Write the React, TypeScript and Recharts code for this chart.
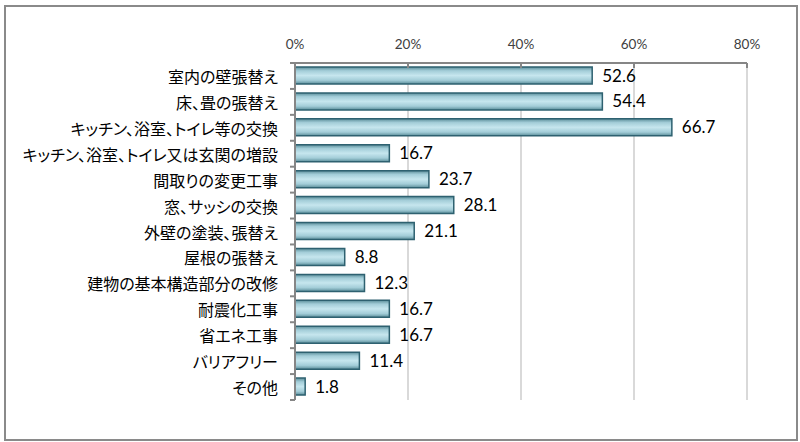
import React from "react";
import { BarChart, Bar, XAxis, YAxis, CartesianGrid, LabelList } from "recharts";

const categories = [
  "室内の壁張替え",
  "床、畳の張替え",
  "キッチン、浴室、トイレ等の交換",
  "キッチン、浴室、トイレ又は玄関の増設",
  "間取りの変更工事",
  "窓、サッシの交換",
  "外壁の塗装、張替え",
  "屋根の張替え",
  "建物の基本構造部分の改修",
  "耐震化工事",
  "省エネ工事",
  "バリアフリー",
  "その他",
];
const values = [52.6, 54.4, 66.7, 16.7, 23.7, 28.1, 21.1, 8.8, 12.3, 16.7, 16.7, 11.4, 1.8];
const xTicks = [0, 20, 40, 60, 80];

const data = categories.map((name, i) => ({ name, value: values[i] }));

const AXIS = "#868686";
const NUM_FONT = "Lato, 'Open Sans', sans-serif";
const JP_FONT = "'Noto Sans CJK JP', sans-serif";

const TopTick = (props: any) => {
  const { x, y, payload } = props;
  return (
    <g>
      <line x1={x} x2={x} y1={y} y2={y + 5} stroke={AXIS} strokeWidth={2} />
      <text x={x} y={y - 14} textAnchor="middle" fontFamily={NUM_FONT} fontSize={13.5} fill="#404040">
        {`${payload.value}%`}
      </text>
    </g>
  );
};

const LeftTick = (props: any) => {
  const { x, y, payload, index, visibleTicksCount } = props;
  const off = payload && typeof payload.offset === "number" && payload.offset > 0 ? payload.offset : 12.96;
  const last = index === (visibleTicksCount ?? categories.length) - 1;
  return (
    <g>
      <line x1={x - 5} x2={x} y1={y - off} y2={y - off} stroke={AXIS} strokeWidth={2} />
      {last && <line x1={x - 5} x2={x} y1={y + off} y2={y + off} stroke={AXIS} strokeWidth={2} />}
      <text
        x={x - 17}
        y={y}
        textAnchor="end"
        dominantBaseline="central"
        fontFamily={JP_FONT}
        fontSize={16}
        fill="#000"
        style={{ fontFeatureSettings: '"palt"' }}
      >
        {payload.value}
      </text>
    </g>
  );
};

export default function App() {
  return (
    <div style={{ position: "absolute", left: 0, top: 0, width: 800, height: 442, background: "#fff" }}>
      <div
        style={{
          position: "absolute",
          left: 4,
          top: 5,
          width: 790,
          height: 432,
          border: "2px solid #8a8a8a",
        }}
      />
      <div style={{ position: "absolute", left: 0, top: 0 }}>
        <BarChart
          width={800}
          height={442}
          data={data}
          layout="vertical"
          margin={{ top: 33, right: 53, bottom: 42, left: 5 }}
          barSize={17}
        >
          <defs>
            <linearGradient id="barGrad" x1="0" y1="0" x2="0" y2="1">
              <stop offset="0%" stopColor="#5a8d99" />
              <stop offset="22%" stopColor="#a3cdd8" />
              <stop offset="50%" stopColor="#c6e6ee" />
              <stop offset="78%" stopColor="#a3cdd8" />
              <stop offset="100%" stopColor="#5a8d99" />
            </linearGradient>
          </defs>
          <CartesianGrid horizontal={false} vertical={true} stroke="#d9d9d9" strokeWidth={2} />
          <XAxis
            type="number"
            orientation="top"
            domain={[0, 80]}
            ticks={xTicks}
            interval={0}
            height={30}
            tickSize={0}
            tickMargin={0}
            tickLine={false}
            axisLine={{ stroke: AXIS, strokeWidth: 2 }}
            tick={<TopTick />}
          />
          <YAxis
            type="category"
            dataKey="name"
            width={290}
            interval={0}
            tickSize={0}
            tickMargin={0}
            tickLine={false}
            axisLine={{ stroke: AXIS, strokeWidth: 2 }}
            tick={<LeftTick />}
          />
          <Bar dataKey="value" fill="url(#barGrad)" stroke="#2e6170" strokeWidth={1.5} isAnimationActive={false}>
            <LabelList
              dataKey="value"
              position="right"
              offset={10}
              fontFamily={NUM_FONT}
              fontSize={17}
              fill="#000"
              formatter={(v: any) => Number(v).toFixed(1)}
            />
          </Bar>
        </BarChart>
      </div>
    </div>
  );
}
